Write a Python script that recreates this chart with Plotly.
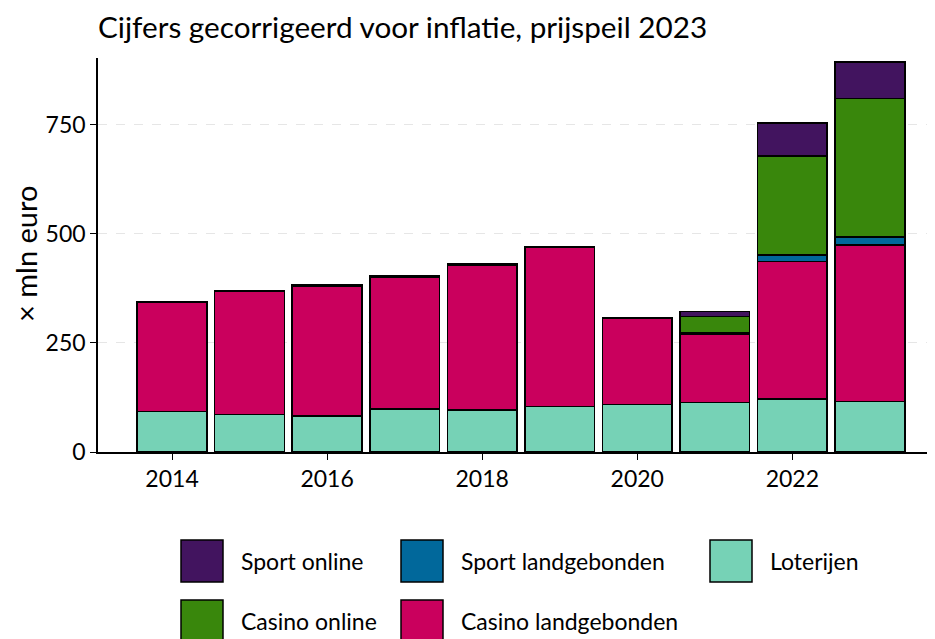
import plotly.graph_objects as go

years = [2014, 2015, 2016, 2017, 2018, 2019, 2020, 2021, 2022, 2023]
loterijen = [93, 86, 83, 98, 96, 104, 109, 113, 122, 116]
casino_landgebonden = [250, 282, 298, 303, 333, 365, 197, 158, 315, 358]
sport_landgebonden = [1, 1, 2, 2, 2, 2, 2, 3, 15, 19]
casino_online = [0, 0, 0, 0, 0, 0, 0, 36, 226, 317]
sport_online = [0, 0, 0, 0, 0, 0, 0, 12, 76, 84]

series_names = ["Loterijen", "Casino landgebonden", "Sport landgebonden", "Casino online", "Sport online"]
series_values = [loterijen, casino_landgebonden, sport_landgebonden, casino_online, sport_online]
series_colors = ["#76d2b6", "#ca005d", "#01689b", "#39870c", "#42145f"]

y_ticks = [0, 250, 500, 750]
x_ticks = [2014, 2016, 2018, 2020, 2022]

FONT = "Lato"
OFF = 8  # page body margin
W, H = 935 - OFF, 639 - OFF
ML, MR, MT, MB = 98 - OFF, 0, 58 - OFF, 187
PW, PH = W - ML - MR, H - MT - MB

fig = go.Figure()
for name, vals, col in zip(series_names, series_values, series_colors):
    fig.add_trace(go.Bar(
        x=years, y=vals, name=name, width=0.9,
        marker=dict(color=col, line=dict(color="black", width=1.5)),
        showlegend=False,
    ))

def px2paper_x(px):
    return (px - OFF - ML) / PW

def px2paper_y(py):
    return (H - MB - (py - OFF)) / PH

legend_order = ["Sport online", "Sport landgebonden", "Loterijen", "Casino online", "Casino landgebonden"]
legend_pos = [(181, 540), (401, 540), (710, 540), (181, 600), (401, 600)]
shapes = []
annotations = []
for name, (lx, ly) in zip(legend_order, legend_pos):
    col = series_colors[series_names.index(name)]
    shapes.append(dict(type="rect", xref="paper", yref="paper",
                       x0=px2paper_x(lx), x1=px2paper_x(lx + 42),
                       y0=px2paper_y(ly + 42), y1=px2paper_y(ly),
                       fillcolor=col, line=dict(color="black", width=1.5)))
    annotations.append(dict(xref="paper", yref="paper", x=px2paper_x(lx + 58),
                            y=px2paper_y(ly + 21), text=name, showarrow=False,
                            xanchor="left", yanchor="middle",
                            font=dict(family=FONT, size=23, color="black")))

annotations.append(dict(xref="paper", yref="paper", x=px2paper_x(25), y=px2paper_y(254),
                        text="× mln euro", textangle=-90, showarrow=False,
                        xanchor="center", yanchor="middle",
                        font=dict(family=FONT, size=29, color="black")))

fig.update_layout(
    width=W, height=H,
    margin=dict(l=ML, r=MR, t=MT, b=MB),
    paper_bgcolor="white", plot_bgcolor="white",
    barmode="stack", bargap=0.1,
    title=dict(text="Cijfers gecorrigeerd voor inflatie, prijspeil 2023",
               x=(98 - OFF) / W, xanchor="left", y=1 - (28 - OFF) / H, yanchor="middle",
               font=dict(family=FONT, size=29.7, color="black")),
    xaxis=dict(range=[2013.045, 2023.84], tickvals=x_ticks, ticktext=[str(t) for t in x_ticks],
               showline=True, linecolor="black", linewidth=1.5, ticks="outside",
               ticklen=6, tickcolor="black", showgrid=False, zeroline=False,
               tickfont=dict(family=FONT, size=23, color="black")),
    yaxis=dict(range=[0, 903], tickvals=y_ticks, ticktext=[str(t) for t in y_ticks],
               showline=True, linecolor="black", linewidth=1.5, ticks="outside",
               ticklen=6, tickcolor="black", showgrid=True, gridcolor="#e6e6e6",
               griddash="dash", gridwidth=1, zeroline=False,
               tickfont=dict(family=FONT, size=23, color="black")),
    shapes=shapes,
    annotations=annotations,
)

fig.write_html("out.html")
